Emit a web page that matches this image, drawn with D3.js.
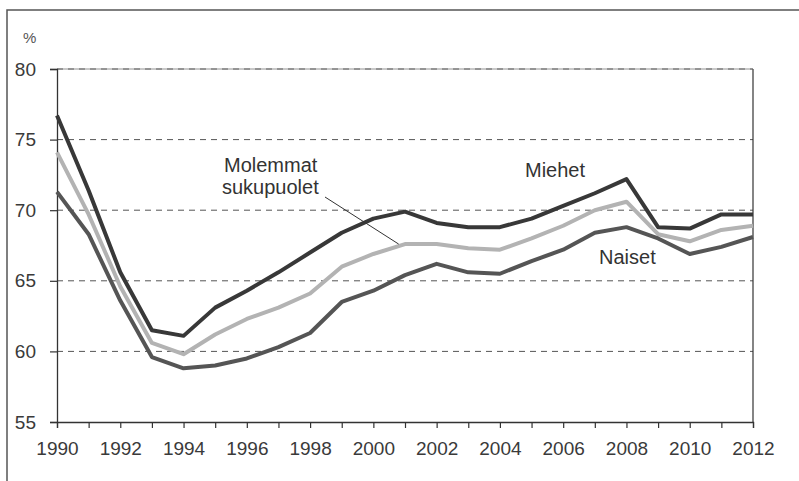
<!DOCTYPE html>
<meta charset="utf-8" />
<html>
<head>
<title>Työllisyysaste</title>
<script src="https://cdn.jsdelivr.net/npm/d3@7"></script>
<style>
body { margin: 0; background: #fff; }
text { font-family: "Liberation Sans", Arial, sans-serif; fill: #333; }
</style>
</head>
<body>
<div id="viz"></div>
<script>

// data
var years = d3.range(1990, 2013);
var miehet = [76.7, 71.4, 65.6, 61.5, 61.1, 63.1, 64.3, 65.6, 67.0, 68.4, 69.4, 69.9, 69.1, 68.8, 68.8, 69.4, 70.3, 71.2, 72.2, 68.8, 68.7, 69.7, 69.7];
var molemmat = [74.1, 69.7, 64.6, 60.6, 59.8, 61.2, 62.3, 63.1, 64.1, 66.0, 66.9, 67.6, 67.6, 67.3, 67.2, 68.0, 68.9, 70.0, 70.6, 68.3, 67.8, 68.6, 68.9];
var naiset = [71.3, 68.3, 63.6, 59.6, 58.8, 59.0, 59.5, 60.3, 61.3, 63.5, 64.3, 65.4, 66.2, 65.6, 65.5, 66.4, 67.2, 68.4, 68.8, 68.0, 66.9, 67.4, 68.1];
var yTicks = [55, 60, 65, 70, 75, 80];

var width = 799, height = 481;
var svg = d3.select("#viz").append("svg")
    .attr("width", width)
    .attr("height", height);

var x = d3.scaleLinear().domain([1990, 2012]).range([57, 753]);
var y = d3.scaleLinear().domain([55, 80]).range([422, 69]);

// outer frame (runs off the right and bottom edges)
svg.append("rect")
  .attr("x", 7).attr("y", 10)
  .attr("width", 820).attr("height", 500)
  .style("fill", "none").style("stroke", "#555").style("stroke-width", 1.5);

// dashed gridlines
svg.append("g").selectAll("line")
  .data(yTicks.filter(function(d) { return d > 55; }))
  .enter().append("line")
  .attr("x1", x(1990)).attr("x2", x(2012))
  .attr("y1", function(d) { return y(d); })
  .attr("y2", function(d) { return y(d); })
  .style("stroke", "#555")
  .style("stroke-width", 1)
  .style("stroke-dasharray", "6,5");

// right border
svg.append("line")
  .attr("x1", x(2012)).attr("x2", x(2012))
  .attr("y1", y(80)).attr("y2", y(55))
  .style("stroke", "#333").style("stroke-width", 1.2);
svg.append("line")
  .attr("x1", x(1990)).attr("x2", x(2012))
  .attr("y1", y(80)).attr("y2", y(80))
  .style("stroke", "#777").style("stroke-width", 0.8);

// axes
var yAxis = d3.axisLeft(y).tickValues(yTicks).tickSize(7).tickPadding(14);
var gy = svg.append("g").attr("transform", "translate(" + x(1990) + ",0)").call(yAxis);

var xAxis = d3.axisBottom(x).tickValues(years).tickSize(6).tickPadding(14)
  .tickFormat(function(d) { return d % 2 == 0 ? d : ""; });
var gx = svg.append("g").attr("transform", "translate(0," + y(55) + ")").call(xAxis);

[gx, gy].forEach(function(g) {
  g.select(".domain").style("stroke", "#333").style("stroke-width", 1.3);
  g.selectAll(".tick line").style("stroke", "#333").style("stroke-width", 1.2);
  g.selectAll(".tick text")
    .style("font-family", "'Liberation Sans', Arial, sans-serif")
    .style("font-size", "19px")
    .style("fill", "#3a3a3a");
});

svg.append("text")
  .attr("x", 23).attr("y", 43)
  .style("font-size", "15px")
  .style("fill", "#555")
  .text("%");

// lines
var line = d3.line()
  .x(function(d, i) { return x(years[i]); })
  .y(function(d) { return y(d); });

var series = [
  { name: "molemmat", values: molemmat, color: "#b3b3b3" },
  { name: "naiset", values: naiset, color: "#555555" },
  { name: "miehet", values: miehet, color: "#383838" }
];

svg.append("g").selectAll("path")
  .data(series)
  .enter().append("path")
  .attr("d", function(d) { return line(d.values); })
  .style("fill", "none")
  .style("stroke", function(d) { return d.color; })
  .style("stroke-width", 4)
  .style("stroke-linejoin", "round");

// labels
svg.append("text").attr("x", 525).attr("y", 177).style("font-size", "20px").text("Miehet");
svg.append("text").attr("x", 599).attr("y", 264).style("font-size", "20px").text("Naiset");
svg.append("text").attr("x", 224).attr("y", 172).style("font-size", "20px").text("Molemmat");
svg.append("text").attr("x", 222).attr("y", 194).style("font-size", "20px").text("sukupuolet");

// leader line to the middle series
svg.append("line")
  .attr("x1", 325).attr("y1", 197)
  .attr("x2", x(2000.8)).attr("y2", y(67.6))
  .style("stroke", "#333").style("stroke-width", 1);

</script>
</body>
</html>
